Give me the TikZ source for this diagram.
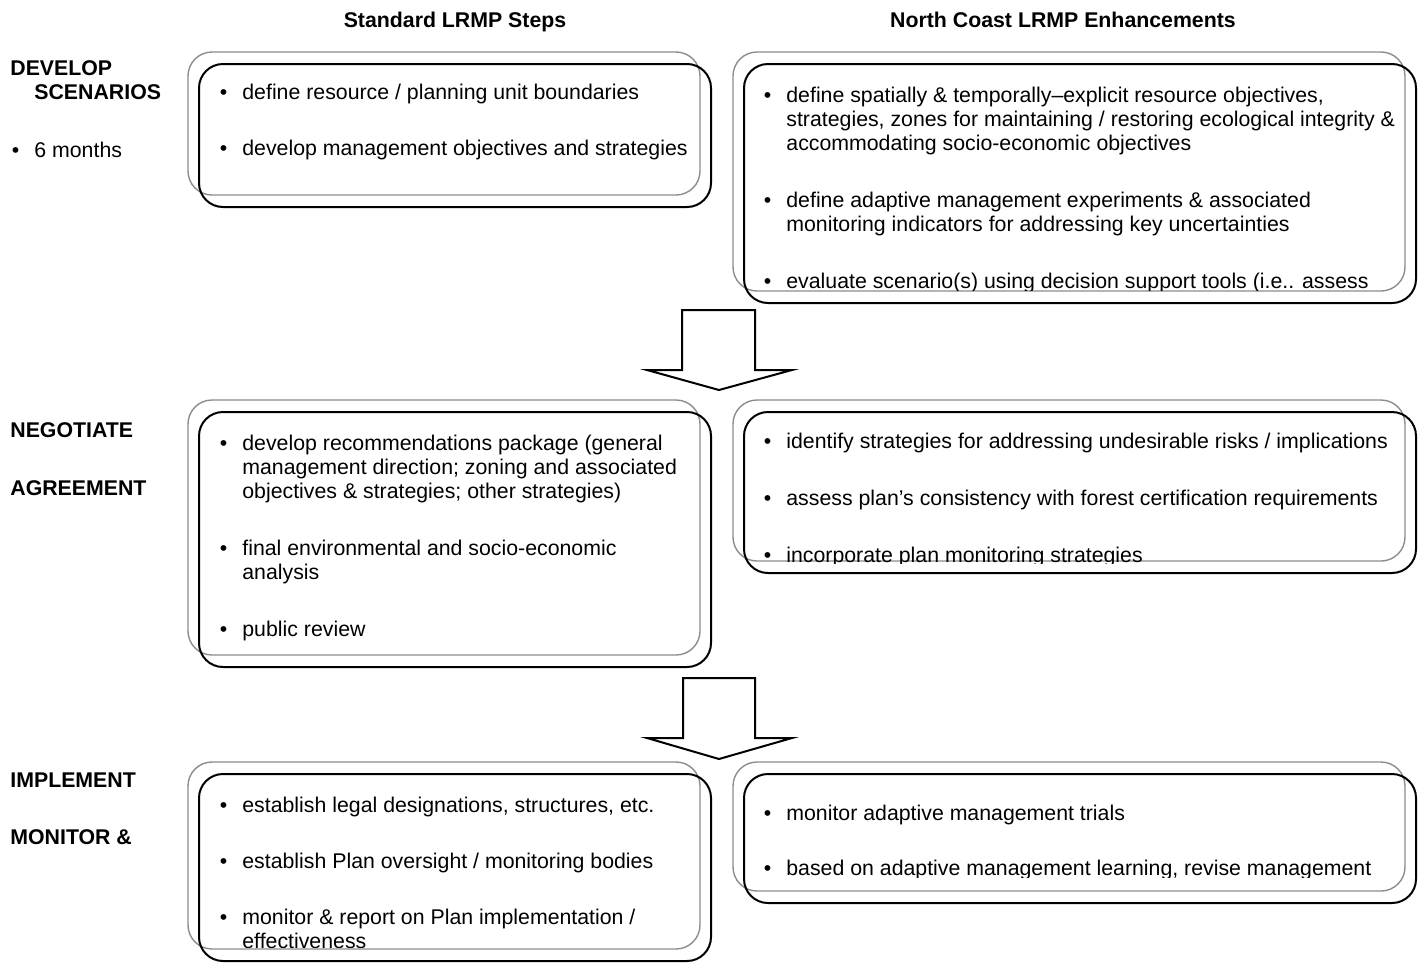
\documentclass[tikz,border=0pt]{standalone}
\usepackage{fontspec}
\setmainfont{Liberation Sans}
\usetikzlibrary{calc}

\newcommand{\bul}{\llap{\textbullet\hspace{7.5pt}}}

\begin{document}
\begin{tikzpicture}[x=0.5pt,y=-0.5pt,
  every node/.style={inner sep=0pt,font=\fontsize{10.65pt}{12pt}\selectfont},
  graybox/.style={draw=black!45,line width=0.7pt,rounded corners=12pt,minimum width=256pt},
  blackbox/.style={draw=black,line width=1pt,rounded corners=12pt,minimum width=256pt},
  items/.style={anchor=base west,align=left},
  lbl/.style={anchor=base west,font=\fontsize{10.65pt}{12pt}\selectfont\bfseries},
  hdr/.style={anchor=base,font=\fontsize{10.65pt}{12pt}\selectfont\bfseries},
  blockarr/.style={draw,line width=1pt,line join=miter,fill=white}]
\useasboundingbox (0,0) rectangle (1418,964);
% column heads
\node[hdr] (hstd) at (455,27) {Standard LRMP Steps};
\node[hdr] (hnc) at (1063,27) {North Coast LRMP Enhancements};
% phase labels
\node[lbl] (dev) at (10,75) {DEVELOP};
\node[lbl] (scen) at (34,99) {SCENARIOS};
\node[items] (mon6) at (34,157) {\bul 6 months};
\node[lbl] (neg) at (10,437) {NEGOTIATE};
\node[lbl] (agr) at (10,495) {AGREEMENT};
\node[lbl] (imp) at (10,787) {IMPLEMENT};
\node[lbl] (moni) at (10,844) {MONITOR \&};
% gray boxes
\node[graybox,minimum height=71.5pt] (g1) at (444,123.5) {};
\node[graybox,minimum width=336pt,minimum height=119.5pt] (g2) at (1069,171.5) {};
\node[graybox,minimum height=127.5pt] (g3) at (444,527.5) {};
\node[graybox,minimum width=336pt,minimum height=80.5pt] (g4) at (1069,480.5) {};
\node[graybox,minimum height=93.5pt] (g5) at (444,855.5) {};
\node[graybox,minimum width=336pt,minimum height=64.5pt] (g6) at (1069,826.5) {};
% box texts (placed at the baseline of their last line)
\node[items] (t1) at (242,155) {\bul define resource / planning unit boundaries\\[16pt]
 \bul develop management objectives and strategies};
\begin{scope}
\clip (733,52) rectangle (1405,290);
\node[items] (t2) at (786,288) {\bul define spatially \& temporally--explicit resource objectives,\\
 strategies, zones for maintaining / restoring ecological integrity \&\\
 accommodating socio-economic objectives\\[16.5pt]
 \bul define adaptive management experiments \& associated\\
 monitoring indicators for addressing key uncertainties\\[16.5pt]
 \bul evaluate scenario(s) using decision support tools (i.e.. assess};
\end{scope}
\node[items] (t3) at (242,636) {\bul develop recommendations package (general\\
 management direction; zoning and associated\\
 objectives \& strategies; other strategies)\\[16.5pt]
 \bul final environmental and socio-economic\\
 analysis\\[16.5pt]
 \bul public review};
\begin{scope}
\clip (733,400) rectangle (1405,563);
\node[items] (t4) at (786,562) {\bul identify strategies for addressing undesirable risks / implications\\[16.5pt]
 \bul assess plan's consistency with forest certification requirements\\[16.5pt]
 \bul incorporate plan monitoring strategies};
\end{scope}
\begin{scope}
\clip (188,762) rectangle (700,947);
\node[items] (t5) at (242,948) {\bul establish legal designations, structures, etc.\\[16pt]
 \bul establish Plan oversight / monitoring bodies\\[16pt]
 \bul monitor \& report on Plan implementation /\\
 effectiveness};
\end{scope}
\begin{scope}
\clip (733,762) rectangle (1405,877);
\node[items] (t6) at (786,875) {\bul monitor adaptive management trials\\[15.5pt]
 \bul based on adaptive management learning, revise management};
\end{scope}
% black boxes
\node[blackbox,minimum height=71.5pt] (b1) at ($(g1.center)+(11,12)$) {};
\node[blackbox,minimum width=336pt,minimum height=119.5pt] (b2) at ($(g2.center)+(11,12)$) {};
\node[blackbox,minimum height=127.5pt] (b3) at ($(g3.center)+(11,12)$) {};
\node[blackbox,minimum width=336pt,minimum height=80.5pt] (b4) at ($(g4.center)+(11,12)$) {};
\node[blackbox,minimum height=93.5pt] (b5) at ($(g5.center)+(11,12)$) {};
\node[blackbox,minimum width=336pt,minimum height=64.5pt] (b6) at ($(g6.center)+(11,12)$) {};
% block arrows
\draw[blockarr] (682,310) -- (755,310) -- (755,370) -- (792,370) -- (719,390) -- (647,370) -- (682,370) -- cycle;
\draw[blockarr] (683,678) -- (755,678) -- (755,738) -- (792,738) -- (719,759) -- (647,738) -- (683,738) -- cycle;
\end{tikzpicture}
\end{document}
